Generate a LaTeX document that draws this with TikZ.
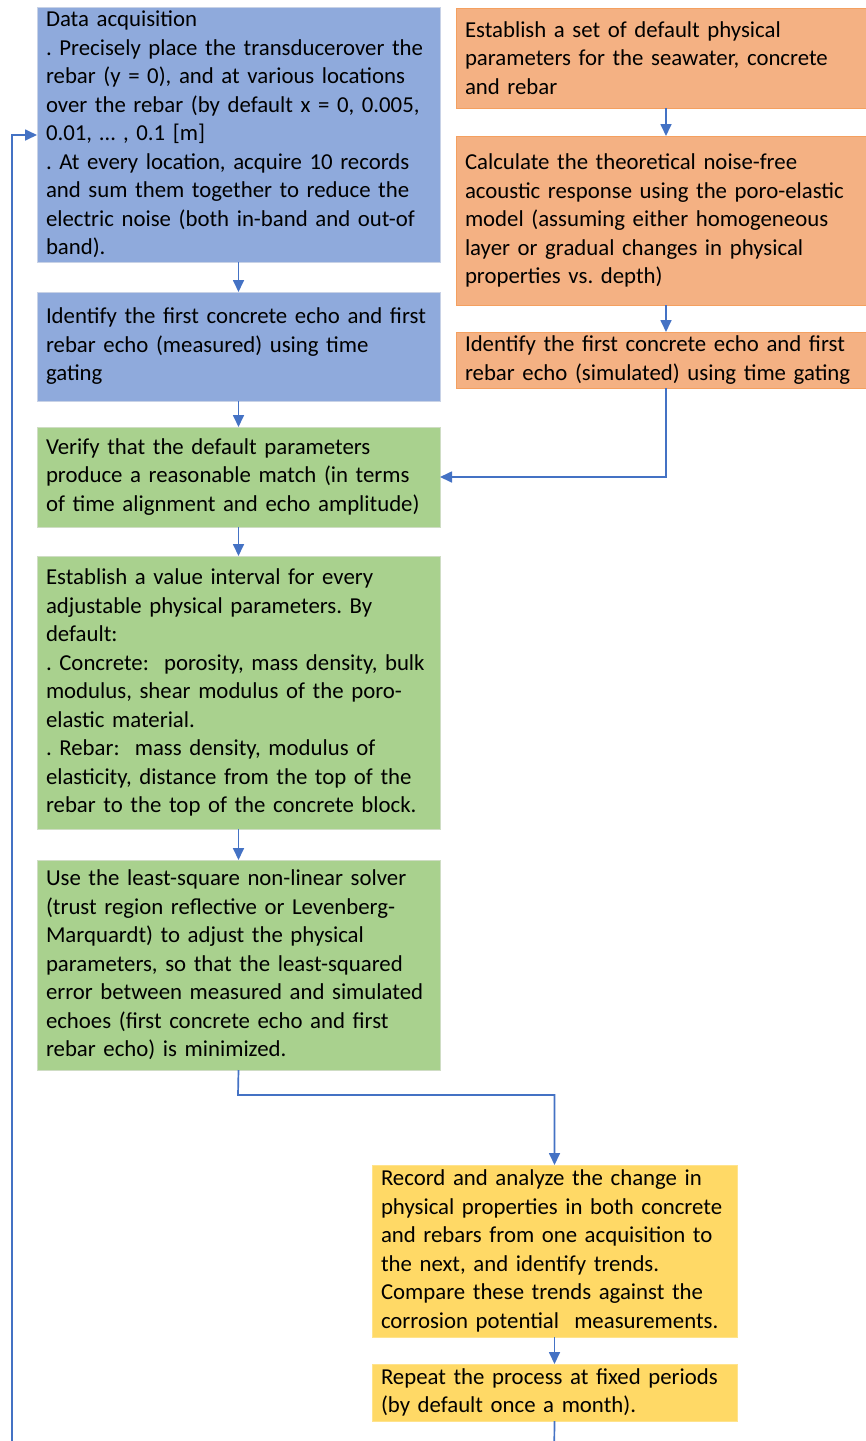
\documentclass[tikz,border=0pt]{standalone}
\usepackage{fontspec}
\setmainfont{Carlito}
\frenchspacing
\usetikzlibrary{arrows.meta}
\definecolor{bfill}{HTML}{8FAADC}
\definecolor{bline}{HTML}{C8D2E6}
\definecolor{ofill}{HTML}{F4B183}
\definecolor{oline}{HTML}{F4A060}
\definecolor{gfill}{HTML}{A9D18E}
\definecolor{gline}{HTML}{CFDDC4}
\definecolor{yfill}{HTML}{FFD966}
\definecolor{yline}{HTML}{FFE38C}
\definecolor{arr}{HTML}{4472C4}
\tikzset{
  box/.style={draw, line width=1pt, inner xsep=9pt, inner ysep=0pt, outer sep=0pt,
    align=left, font=\fontsize{22.8pt}{28.5pt}\selectfont\frenchspacing},
  bluebox/.style={box, fill=bfill, draw=bline},
  orbox/.style={box, fill=ofill, draw=oline},
  grbox/.style={box, fill=gfill, draw=gline},
  yebox/.style={box, fill=yfill, draw=yline},
  conn/.style={draw=arr, line width=1.7pt, -{Triangle[width=11pt,length=12pt]}}
}
\begin{document}
\begin{tikzpicture}[x=1pt,y=-1pt]
\useasboundingbox (0,0) rectangle (866,1441);
\clip (0,0) rectangle (866,1441);
% left column
\node[bluebox, minimum width=403pt, minimum height=255pt, text width=385pt] (A) at (238.5,134.5)
 {Data acquisition\\
 . Precisely place the transducerover the\\
 rebar (y = 0), and at various locations\\
 over the rebar (by default x = 0, 0.005,\\
 0.01, \dots\ , 0.1 [m]\\
 . At every location, acquire 10 records\\
 and sum them together to reduce the\\
 electric noise (both in-band and out-of\\
 band).};
\node[bluebox, minimum width=403pt, minimum height=109pt, text width=385pt] (B) at (238.5,346.5)
 {Identify the first concrete echo and first\\
 rebar echo (measured) using time\\
 gating};
\node[grbox, minimum width=403pt, minimum height=100pt, text width=385pt] (C) at (238.5,477)
 {Verify that the default parameters\\
 produce a reasonable match (in terms\\
 of time alignment and echo amplitude)};
\node[grbox, minimum width=403pt, minimum height=273pt, text width=385pt] (D) at (238.5,692.5)
 {Establish a value interval for every\\
 adjustable physical parameters. By\\
 default:\\
 . Concrete:\ \ porosity, mass density, bulk\\
 modulus, shear modulus of the poro-\\
 elastic material.\\
 . Rebar:\ \ mass density, modulus of\\
 elasticity, distance from the top of the\\
 rebar to the top of the concrete block.};
\node[grbox, minimum width=403pt, minimum height=210pt, text width=385pt] (E) at (238.5,965)
 {Use the least-square non-linear solver\\
 (trust region reflective or Levenberg-\\
 Marquardt) to adjust the physical\\
 parameters, so that the least-squared\\
 error between measured and simulated\\
 echoes (first concrete echo and first\\
 rebar echo) is minimized.};
% right column
\node[orbox, minimum width=420pt, minimum height=100pt, text width=402pt] (O1) at (666,58)
 {Establish a set of default physical\\
 parameters for the seawater, concrete\\
 and rebar};
\node[orbox, minimum width=420pt, minimum height=169pt, text width=402pt] (O2) at (666,220.5)
 {Calculate the theoretical noise-free\\
 acoustic response using the poro-elastic\\
 model (assuming either homogeneous\\
 layer or gradual changes in physical\\
 properties vs. depth)};
\node[orbox, minimum width=420pt, minimum height=56pt, text width=402pt] (O3) at (666,360)
 {Identify the first concrete echo and first\\
 rebar echo (simulated) using time gating};
% bottom
\node[yebox, minimum width=365pt, minimum height=172pt, text width=347pt] (Y1) at (554.5,1251)
 {Record and analyze the change in\\
 physical properties in both concrete\\
 and rebars from one acquisition to\\
 the next, and identify trends.\\
 Compare these trends against the\\
 corrosion potential\ \ measurements.};
\node[yebox, minimum width=365pt, minimum height=57pt, text width=347pt] (Y2) at (554.5,1392.5)
 {Repeat the process at fixed periods\\
 (by default once a month).};
% connectors
\draw[conn] (A.south) -- (B.north);
\draw[conn] (B.south) -- (C.north);
\draw[conn] (C.south) -- (D.north);
\draw[conn] (D.south) -- (E.north);
\draw[conn] (O1.south) -- (O2.north);
\draw[conn] (O2.south) -- (O3.north);
\draw[conn] (O3.south) |- (C.east);
\coordinate (e1) at (238,1095);
\draw[conn] (E.south) -- (e1) -| (Y1.north);
\draw[conn] (Y1.south) -- (Y2.north);
\coordinate (lb) at (554,1470);
\coordinate (ll) at (12,1470);
\draw[conn] (Y2.south) -- (lb) -- (ll) |- (A.west|-0,135);
\end{tikzpicture}
\end{document}
